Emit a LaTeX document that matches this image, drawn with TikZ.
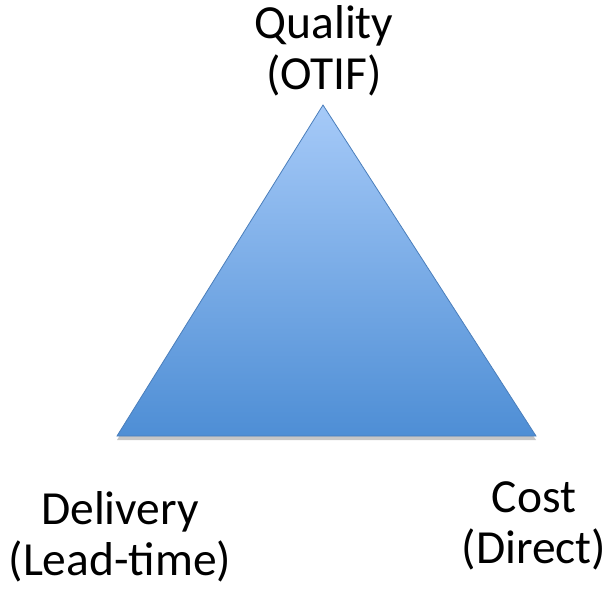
\documentclass[tikz,border=0pt]{standalone}
\usepackage{fontspec}
\setmainfont{Carlito}
\usepackage{tikz}
\usetikzlibrary{shadows}
\usepackage{xcolor}

\definecolor{triTop}{RGB}{166,202,248}
\definecolor{triBottom}{RGB}{78,142,213}
\definecolor{triEdge}{RGB}{74,126,187}

\tikzset{
	corner/.style={align=center, inner sep=0pt, anchor=base,
		font=\fontsize{47.5}{51}\selectfont}
}

\begin{document}
\begin{tikzpicture}[x=1pt, y=-1pt]
\useasboundingbox (0,0) rectangle (608,590);

% the triangle
\coordinate (apex) at (323,105);
\coordinate (left) at (117,436);
\coordinate (right) at (536,436);
\draw[triEdge, line width=0.8pt, top color=triTop, bottom color=triBottom,
	drop shadow={shadow xshift=0pt, shadow yshift=-4pt, opacity=0.45}]
	(apex) -- (right) -- (left) -- cycle;

% corner labels (anchored at the baseline of the second line)
\node[corner] (quality) at (324,89) {Quality\\(OTIF)};
\node[corner] (delivery) at (120,575) {Delivery\\(Lead-time)};
\node[corner] (cost) at (534,563) {Cost\\(Direct)};
\end{tikzpicture}
\end{document}
